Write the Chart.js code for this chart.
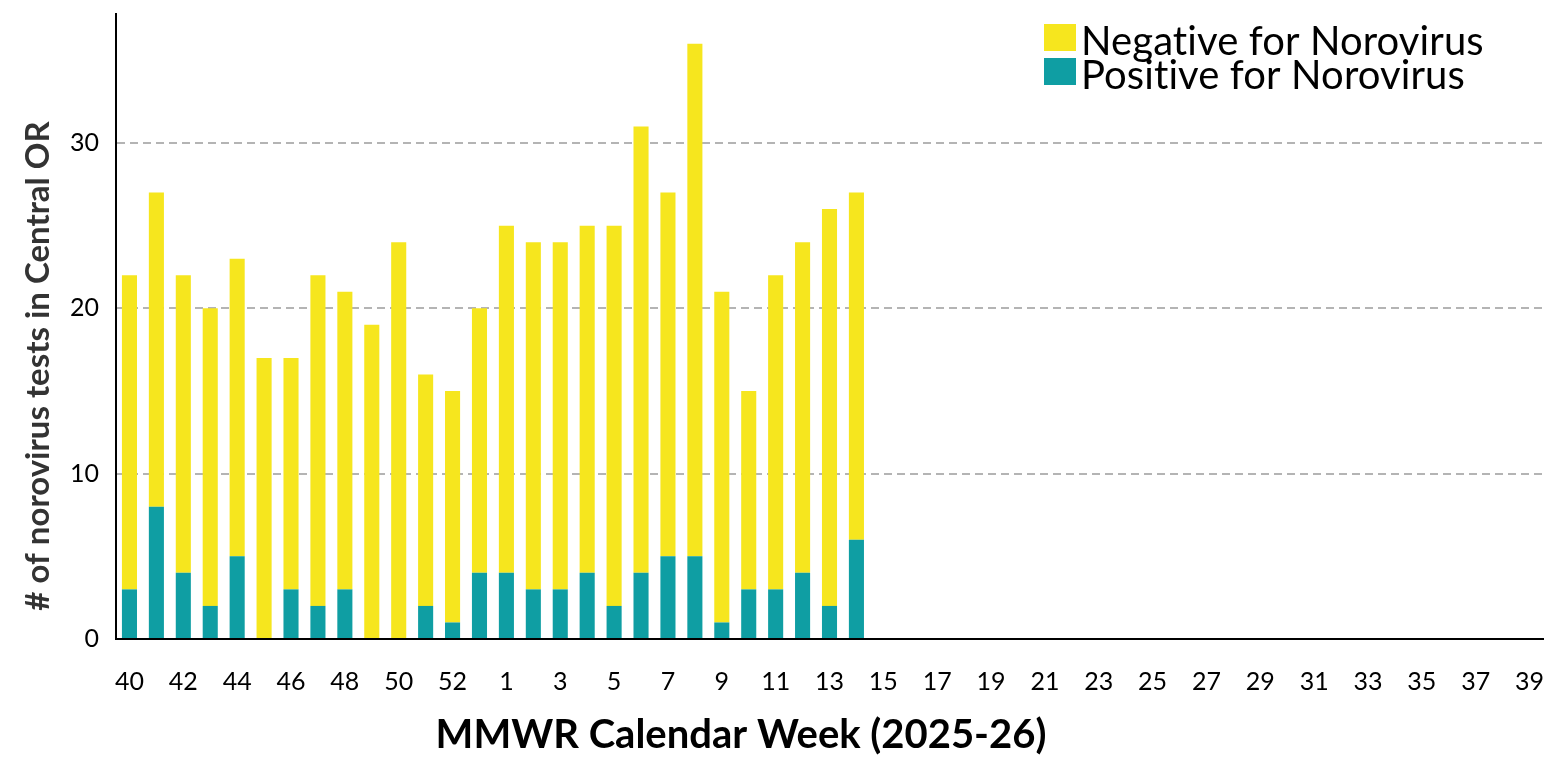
<!DOCTYPE html>
<html>
<head>
<meta charset="utf-8">
<title>Norovirus tests - Central OR</title>
<script src="https://cdn.jsdelivr.net/npm/chart.js@4/dist/chart.umd.min.js"></script>
<style>
    body { margin: 0; background: #fff; }
    #wrap { width: 1561px; height: 758px; position: relative; }
</style>
</head>
<body>
<div id="wrap"><canvas id="chartNoro"></canvas></div>
<script>
// MMWR weeks of the 2025-26 season (2025 has a week 53)
const semanas = ['40', '41', '42', '43', '44', '45', '46', '47', '48', '49', '50', '51', '52', '53',
    '1', '2', '3', '4', '5', '6', '7', '8', '9', '10', '11', '12', '13', '14', '15', '16', '17', '18',
    '19', '20', '21', '22', '23', '24', '25', '26', '27', '28', '29', '30', '31', '32', '33', '34',
    '35', '36', '37', '38', '39'];

// tests per week (weeks 15-39 not reported yet)
const positivos = [3, 8, 4, 2, 5, 0, 3, 2, 3, 0, 0, 2, 1, 4,
    4, 3, 3, 4, 2, 4, 5, 5, 1, 3, 3, 4, 2, 6];
const negativos = [19, 19, 18, 18, 18, 17, 14, 20, 18, 19, 24, 14, 14, 16,
    21, 21, 21, 21, 23, 27, 22, 31, 20, 12, 19, 20, 24, 21];

const yTicks = [0, 10, 20, 30];

const AMARELO = '#F6E61E';
const TEAL = '#0F9EA3';
const FONTE = 'Lato, "Noto Sans", sans-serif';

// legend + axis titles drawn by hand (legend sits inside the plot, stacked)
const extras = {
    id: 'extras',
    afterDraw(chart) {
        const ctx = chart.ctx;
        const area = chart.chartArea;
        ctx.save();

        // legend, negative on top
        const itens = chart.data.datasets.slice().reverse();
        let y = 24;
        ctx.letterSpacing = '0.1px'; // no "ti" ligature, like the original
        itens.forEach(ds => {
            const x = area.right - 499;
            ctx.fillStyle = ds.backgroundColor;
            ctx.fillRect(x, y, 32, 27);
            ctx.fillStyle = '#000';
            ctx.font = '40px ' + FONTE;
            ctx.textAlign = 'left';
            ctx.textBaseline = 'alphabetic';
            ctx.fillText(ds.label, x + 37, y + 31);
            y += 34;
        });
        ctx.letterSpacing = '0px';

        // x title
        ctx.font = 'bold 40px ' + FONTE;
        ctx.fillStyle = '#000';
        ctx.textAlign = 'center';
        ctx.textBaseline = 'middle';
        ctx.fillText('MMWR Calendar Week (2025-26)', 741, 735);

        // y title
        ctx.translate(38, 366);
        ctx.rotate(-Math.PI / 2);
        ctx.font = 'bold 33px ' + FONTE;
        ctx.fillStyle = '#333';
        ctx.fillText('# of norovirus tests in Central OR', 0, 0);
        ctx.restore();
    }
};

function initChart() {
    const ctx = document.getElementById('chartNoro').getContext('2d');
    new Chart(ctx, {
        type: 'bar',
        data: {
            labels: semanas,
            datasets: [{
                label: 'Positive for Norovirus',
                data: positivos,
                backgroundColor: TEAL,
                barPercentage: 0.56,
                categoryPercentage: 1
            }, {
                label: 'Negative for Norovirus',
                data: negativos,
                backgroundColor: AMARELO,
                barPercentage: 0.56,
                categoryPercentage: 1
            }]
        },
        options: {
            responsive: true,
            maintainAspectRatio: false,
            animation: false,
            layout: { padding: { top: 14, right: 18, left: 0, bottom: 0 } },
            plugins: {
                legend: { display: false },
                tooltip: { enabled: false }
            },
            scales: {
                x: {
                    stacked: true,
                    offset: true,
                    grid: { display: false, drawTicks: false },
                    border: { color: '#000', width: 2 },
                    ticks: {
                        autoSkip: false,
                        maxRotation: 0,
                        padding: 28,
                        color: '#000',
                        font: { family: FONTE, size: 25 },
                        callback: (v, i) => i % 2 === 0 ? semanas[i] : ''
                    },
                    afterFit: s => {
                        s.height = 119;
                        s.paddingLeft = 0;
                        s.paddingRight = 0;
                    }
                },
                y: {
                    stacked: true,
                    min: 0,
                    max: 37.8,
                    afterBuildTicks: s => { s.ticks = yTicks.map(v => ({ value: v })); },
                    grid: {
                        color: c => c.tick.value === 0 ? 'rgba(0,0,0,0)' : '#b4b4b4',
                        lineWidth: 2,
                        drawTicks: false
                    },
                    border: { color: '#000', width: 2, dash: [8, 5] },
                    ticks: {
                        padding: 17,
                        color: '#000',
                        font: { family: FONTE, size: 25 }
                    },
                    afterFit: s => {
                        s.width = 116;
                        s.paddingTop = 0;
                        s.paddingBottom = 0;
                    }
                }
            }
        },
        plugins: [extras]
    });
}

// make sure Lato is ready before drawing on canvas
document.fonts.load('36px Lato').then(initChart, initChart);
</script>
</body>
</html>
